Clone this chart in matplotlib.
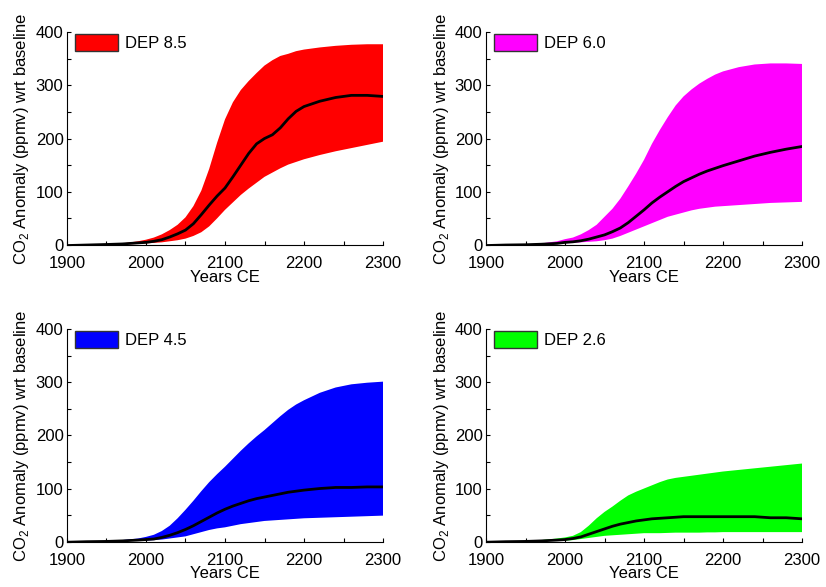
import matplotlib
matplotlib.use("Agg")
import matplotlib.pyplot as plt
from matplotlib.patches import Patch
from matplotlib.ticker import MultipleLocator

plt.rcParams['font.family'] = ['Liberation Sans', 'DejaVu Sans']
plt.rcParams['mathtext.fontset'] = 'custom'
plt.rcParams['mathtext.rm'] = 'Liberation Sans'

years = [1900, 1925, 1950, 1970, 1990, 2000, 2010, 2020, 2030, 2040, 2050,
         2060, 2070, 2080, 2090, 2100, 2110, 2120, 2130, 2140, 2150, 2160,
         2170, 2180, 2190, 2200, 2220, 2240, 2260, 2280, 2300]

dep85_hi = [0, 0.5, 1, 3, 7, 10, 14, 20, 28, 38, 52, 73, 102, 143, 192, 236,
            268, 291, 308, 323, 337, 347, 355, 359, 364, 367, 371, 374, 376, 377, 377]
dep85_lo = [0, 0, 0.5, 1, 2, 3, 4, 5, 7, 9, 12, 17, 24, 35, 50, 66, 80, 94,
            106, 117, 128, 136, 144, 151, 156, 161, 169, 176, 182, 188, 194]
dep85_med = [-1, 0, 1, 2, 4, 5, 7, 10, 15, 21, 28, 40, 57, 75, 92, 107, 128,
             150, 172, 190, 200, 207, 220, 237, 251, 260, 270, 277, 281, 281, 279]

dep60_hi = [0, 0.5, 1, 3, 7, 11, 14, 20, 28, 38, 53, 68, 87, 110, 134, 160,
            190, 216, 240, 262, 279, 292, 303, 312, 320, 326, 334, 339, 341, 341, 340]
dep60_lo = [0, 0, 0.5, 1, 2, 3, 4, 5, 6, 7, 9, 12, 17, 23, 29, 35, 41, 47, 53,
            57, 61, 65, 68, 70, 72, 73, 75, 77, 79, 80, 81]
dep60_med = [-1, 0, 0.5, 1.5, 3, 5, 6, 8, 11, 15, 19, 25, 32, 42, 54, 66, 79,
             90, 100, 110, 119, 126, 133, 139, 144, 149, 158, 167, 174, 180, 185]

dep45_hi = [0, 0.5, 1, 3, 6, 9, 13, 20, 30, 44, 60, 77, 95, 112, 127, 141,
            156, 171, 185, 198, 210, 223, 236, 248, 258, 266, 280, 290, 296, 299, 301]
dep45_lo = [0, 0, 0.5, 1, 2, 2, 3, 4, 6, 8, 10, 14, 18, 22, 25, 27, 30, 33,
            35, 37, 39, 40, 41, 42, 43, 44, 45, 46, 47, 48, 49]
dep45_med = [-1, 0, 0.5, 1.5, 3, 4, 5, 8, 12, 17, 23, 30, 38, 46, 54, 61, 67,
             72, 77, 81, 84, 87, 90, 93, 95, 97, 100, 102, 102, 103, 103]

dep26_hi = [0, 0.5, 1, 3, 6, 8, 11, 18, 30, 44, 56, 66, 77, 87, 94, 100, 106,
            112, 117, 120, 122, 124, 126, 128, 130, 132, 135, 138, 141, 144, 147]
dep26_lo = [0, 0, 0.5, 1, 2, 2, 3, 5, 7, 9, 11, 12, 13, 14, 15, 16, 16, 16,
            16.5, 17, 17, 17, 17, 17.5, 17.5, 18, 18, 18, 18, 18, 18]
dep26_med = [-1, 0, 0.5, 1.5, 3, 4, 6, 9, 14, 19, 24, 29, 33, 36, 39, 41, 43,
             44, 45, 46, 47, 47, 47, 47, 47, 47, 47, 47, 45, 45, 43]

labels = ['DEP 8.5', 'DEP 6.0', 'DEP 4.5', 'DEP 2.6']
colors = ['#ff0000', '#ff00ff', '#0000ff', '#00ff00']
highs = [dep85_hi, dep60_hi, dep45_hi, dep26_hi]
lows = [dep85_lo, dep60_lo, dep45_lo, dep26_lo]
medians = [dep85_med, dep60_med, dep45_med, dep26_med]

# axes boxes in figure fractions: left, bottom, width, height
boxes = [
    [0.0811, 0.5826, 0.3826, 0.3629],
    [0.5884, 0.5826, 0.3826, 0.3629],
    [0.0811, 0.0772, 0.3826, 0.3623],
    [0.5884, 0.0772, 0.3826, 0.3623],
]

fig = plt.figure(figsize=(8.26, 5.87), dpi=100)

for box, label, color, hi, lo, med in zip(boxes, labels, colors, highs, lows, medians):
    ax = fig.add_axes(box)
    ax.fill_between(years, lo, hi, facecolor=color, edgecolor='none', linewidth=0)
    ax.plot(years, med, color='black', linewidth=2)

    ax.set_xlim(1900, 2300)
    ax.set_ylim(0, 400)
    ax.xaxis.set_major_locator(MultipleLocator(100))
    ax.xaxis.set_minor_locator(MultipleLocator(50))
    ax.yaxis.set_major_locator(MultipleLocator(100))
    ax.yaxis.set_minor_locator(MultipleLocator(50))
    ax.tick_params(which='both', direction='in', length=3, width=0.8,
                   labelsize=12, top=False, right=False)
    ax.tick_params(axis='x', pad=8)
    ax.tick_params(axis='y', pad=2.5)
    for side in ('top', 'right'):
        ax.spines[side].set_visible(False)
    for side in ('left', 'bottom'):
        ax.spines[side].set_linewidth(0.8)

    ax.set_xlabel('Years CE', fontsize=12, labelpad=-1)
    ax.set_ylabel(r'CO$_2$ Anomaly (ppmv) wrt baseline', fontsize=12, labelpad=3)

    handle = Patch(facecolor=color, edgecolor='#333333', linewidth=1)
    ax.legend([handle], [label], loc='upper left', frameon=False,
              fontsize=12, handlelength=2.6, handleheight=1.2,
              handletextpad=0.4, borderpad=0, borderaxespad=0.1,
              bbox_to_anchor=(0.02, 1.0))

fig.savefig('out.png', dpi=100)
